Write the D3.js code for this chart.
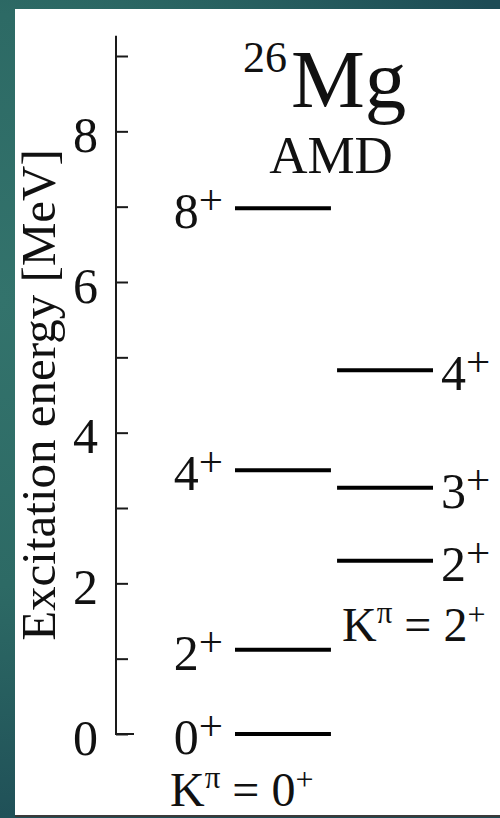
<!DOCTYPE html>
<html>
<head>
<meta charset="utf-8">
<script src="https://cdn.jsdelivr.net/npm/d3@7"></script>
<style>
	body { margin: 0; background: #fff; }
	svg { display: block; font-family: "Liberation Serif", "Times New Roman", serif; }
</style>
</head>
<body>
<script>
// Data
const massNumber = "26", nucleus = "Mg", model = "AMD";
const bandK = ["0", "2"];
const levelBand   = ["0", "0", "0", "0", "2", "2", "2"];
const levelSpin   = ["0", "2", "4", "8", "2", "3", "4"];
const levelEnergy = [0, 1.12, 3.50, 6.98, 2.30, 3.27, 4.83];
const yTickValues = [0, 1, 2, 3, 4, 5, 6, 7, 8, 9];
const yTickLabels = ["0", "", "2", "", "4", "", "6", "", "8", ""];
const yTitle = "Excitation energy [MeV]";

const width = 500, height = 818;

const svg = d3.select("body").append("svg")
	.attr("width", width).attr("height", height);

// slide frame
const defs = svg.append("defs");
const grad = defs.append("radialGradient").attr("id", "frame")
	.attr("gradientUnits", "userSpaceOnUse")
	.attr("cx", 0).attr("cy", 300).attr("r", 570);
grad.append("stop").attr("offset", 0).attr("stop-color", "#33736c");
grad.append("stop").attr("offset", 0.5).attr("stop-color", "#2d6a65");
grad.append("stop").attr("offset", 1).attr("stop-color", "#1d4b55");

svg.append("rect").attr("width", width).attr("height", height).attr("fill", "url(#frame)");
svg.append("rect").attr("x", 15).attr("y", 9).attr("width", width - 15).attr("height", 807).attr("fill", "#fff");
svg.append("rect").attr("x", 15).attr("y", 815).attr("width", width - 15).attr("height", 2).attr("fill", "#3a3a3a");

// scales
const y = d3.scaleLinear().domain([0, 9]).range([734, 56]);
const x = d3.scaleBand().domain(bandK).range([235, 433]).paddingInner(0.06);

// axis
const axis = d3.axisLeft(y)
	.tickValues(yTickValues)
	.tickFormat((d, i) => yTickLabels[i])
	.tickSize(-12)
	.tickPadding(18)
	.tickSizeOuter(0);

const gAxis = svg.append("g").attr("transform", "translate(116,0)").call(axis);
gAxis.attr("font-family", null);
gAxis.select(".domain").remove();
gAxis.selectAll(".tick line").attr("stroke", "#1a1a1a").attr("stroke-width", 2);
gAxis.selectAll(".tick text")
	.attr("fill", "#111")
	.attr("font-size", 50)
	.attr("dy", "0.4em");
gAxis.append("path")
	.attr("d", `M18,${y(0)}H0V${y(9.27)}`)
	.attr("fill", "none").attr("stroke", "#1a1a1a").attr("stroke-width", 2);

svg.append("text")
	.attr("transform", "translate(55,395) rotate(-90)")
	.attr("text-anchor", "middle")
	.attr("font-size", 49).attr("fill", "#111")
	.text(yTitle);

// levels
const levels = levelEnergy.map((e, i) => ({ band: levelBand[i], spin: levelSpin[i], e }));

svg.append("g").selectAll("line")
	.data(levels).join("line")
	.attr("x1", d => x(d.band))
	.attr("x2", d => x(d.band) + x.bandwidth())
	.attr("y1", d => y(d.e)).attr("y2", d => y(d.e))
	.attr("stroke", "#000").attr("stroke-width", 4);

const lab = svg.append("g").selectAll("text")
	.data(levels).join("text")
	.attr("x", d => d.band === bandK[0] ? x(d.band) - 12 : x(d.band) + x.bandwidth() + 8)
	.attr("y", d => y(d.e) + 20)
	.attr("text-anchor", d => d.band === bandK[0] ? "end" : "start")
	.attr("font-size", 50).attr("fill", "#111");
lab.append("tspan").text(d => d.spin);
lab.append("tspan").attr("font-size", 43).attr("dy", -14).text("+");

// band labels
function bandLabel(k, px, py) {
	const t = svg.append("text").attr("x", px).attr("y", py)
		.attr("font-size", 48).attr("fill", "#111");
	t.append("tspan").text("K");
	t.append("tspan").attr("font-size", 31).attr("dy", -18).text("π");
	t.append("tspan").attr("dy", 18).text(" = " + k);
	t.append("tspan").attr("font-size", 32).attr("dy", -16).text("+");
}
bandLabel(bandK[1], 342, 641);
bandLabel(bandK[0], 170, 806);

// title
svg.append("text").attr("x", 243).attr("y", 72)
	.attr("font-size", 44).attr("fill", "#111").text(massNumber);
svg.append("text").attr("x", 291).attr("y", 107)
	.attr("font-size", 83).attr("fill", "#111").text(nucleus);
svg.append("text").attr("x", 331).attr("y", 173)
	.attr("text-anchor", "middle")
	.attr("font-size", 53).attr("fill", "#111").text(model);
</script>
</body>
</html>
